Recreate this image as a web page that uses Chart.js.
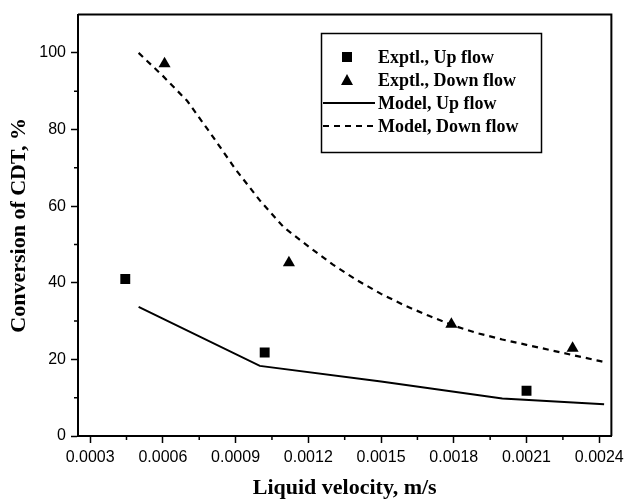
<!DOCTYPE html>
<html>
<head>
<meta charset="utf-8">
<script src="https://cdn.jsdelivr.net/npm/chart.js@4"></script>
<style>
  html, body { margin: 0; padding: 0; background: #fff; }
</style>
</head>
<body>
<canvas id="myChart" width="629" height="502"></canvas>
<script>
// experimental points
const upExpX = [0.000445, 0.00102, 0.0021];
const upExpY = [41, 21.8, 11.8];
const downExpX = [0.000607, 0.00112, 0.00179, 0.00229];
const downExpY = [97.2, 45.2, 29.2, 22.9];

// model curves
const upModelX = [0.0005, 0.001, 0.0015, 0.002, 0.00242];
const upModelY = [33.7, 18.3, 14.2, 9.8, 8.3];
const downModelX = [0.0005, 0.0006, 0.0007, 0.0008, 0.0009, 0.001, 0.0011, 0.0012, 0.0013, 0.0014,
    0.0015, 0.0016, 0.0017, 0.0018, 0.0019, 0.002, 0.0021, 0.0022, 0.0023, 0.0024, 0.00242];
const downModelY = [100, 94, 87.5, 78.7, 69.6, 61.5, 54.4, 49.5, 44.8, 40.7,
    37.1, 34.0, 31.3, 28.8, 26.8, 25.2, 23.8, 22.4, 21.0, 19.6, 19.3];

// ticks
const xTicks = [0.0003, 0.0006, 0.0009, 0.0012, 0.0015, 0.0018, 0.0021, 0.0024];
const xMinor = [0.00045, 0.00075, 0.00105, 0.00135, 0.00165, 0.00195, 0.00225];
const yTicks = [0, 20, 40, 60, 80, 100];
const yMinor = [10, 30, 50, 70, 90];

const pts = (xs, ys) => xs.map((x, i) => ({ x: x, y: ys[i] }));

const serifBold = { family: "'Liberation Serif', 'Times New Roman', serif", weight: "bold" };

// legend box drawn inside the plot
const boxLegend = {
    id: "boxLegend",
    afterDraw(chart) {
        const ctx = chart.ctx;
        const x0 = 321, y0 = 33, w = 220, h = 119;
        ctx.save();
        ctx.fillStyle = "#fff";
        ctx.fillRect(x0, y0, w, h);
        ctx.strokeStyle = "#000";
        ctx.lineWidth = 1.5;
        ctx.strokeRect(x0 + 0.5, y0 + 0.5, w, h);
        ctx.font = "bold 18px 'Liberation Serif', 'Times New Roman', serif";
        ctx.textBaseline = "middle";
        chart.data.datasets.forEach((ds, i) => {
            const y = y0 + 24 + i * 23;
            ctx.fillStyle = "#000";
            if (ds.showLine) {
                ctx.lineWidth = 2;
                ctx.setLineDash(ds.borderDash || []);
                ctx.beginPath();
                ctx.moveTo(x0 + 2, y);
                ctx.lineTo(x0 + 54, y);
                ctx.stroke();
                ctx.setLineDash([]);
            } else if (ds.pointStyle === "rect") {
                ctx.fillRect(347 - 5, y - 5, 10, 10);
            } else {
                ctx.beginPath();
                ctx.moveTo(347, y - 6);
                ctx.lineTo(353, y + 5);
                ctx.lineTo(341, y + 5);
                ctx.closePath();
                ctx.fill();
            }
            ctx.fillText(ds.label, 378, y + 1);
        });
        ctx.restore();
    }
};

// frame on top/right and minor ticks
const frame = {
    id: "frame",
    afterDraw(chart) {
        const ctx = chart.ctx;
        const a = chart.chartArea;
        const xs = chart.scales.x, ys = chart.scales.y;
        ctx.save();
        ctx.strokeStyle = "#000";
        ctx.lineWidth = 2;
        ctx.beginPath();
        ctx.moveTo(a.left, a.top);
        ctx.lineTo(a.right, a.top);
        ctx.lineTo(a.right, a.bottom);
        ctx.stroke();
        ctx.lineWidth = 1.5;
        ctx.beginPath();
        xMinor.forEach(v => {
            const px = xs.getPixelForValue(v);
            ctx.moveTo(px, a.bottom);
            ctx.lineTo(px, a.bottom + 4);
        });
        yMinor.forEach(v => {
            const py = ys.getPixelForValue(v);
            ctx.moveTo(a.left, py);
            ctx.lineTo(a.left - 4, py);
        });
        ctx.stroke();
        ctx.restore();
    }
};

const ctx = document.getElementById("myChart").getContext("2d");
new Chart(ctx, {
    type: "scatter",
    data: {
        datasets: [
            {
                label: "Exptl., Up flow",
                data: pts(upExpX, upExpY),
                pointStyle: "rect",
                pointRadius: 7,
                backgroundColor: "#000",
                borderColor: "#000",
                borderWidth: 0,
            },
            {
                label: "Exptl., Down flow",
                data: pts(downExpX, downExpY),
                pointStyle: "triangle",
                pointRadius: 7,
                backgroundColor: "#000",
                borderColor: "#000",
                borderWidth: 0,
            },
            {
                label: "Model, Up flow",
                data: pts(upModelX, upModelY),
                showLine: true,
                pointRadius: 0,
                borderColor: "#000",
                borderWidth: 2,
            },
            {
                label: "Model, Down flow",
                data: pts(downModelX, downModelY),
                showLine: true,
                pointRadius: 0,
                borderColor: "#000",
                borderWidth: 2.2,
                borderDash: [6, 5],
            },
        ],
    },
    options: {
        responsive: false,
        animation: false,
        devicePixelRatio: 1,
        layout: { padding: { top: 14, right: 12, left: 0, bottom: 0 } },
        plugins: {
            legend: { display: false },
            tooltip: { enabled: false },
        },
        scales: {
            x: {
                type: "linear",
                min: 0.00025,
                max: 0.00245,
                afterBuildTicks: s => { s.ticks = xTicks.map(v => ({ value: v })); },
                afterFit: s => { s.height = 66; },
                border: { display: true, color: "#000", width: 2 },
                grid: { drawOnChartArea: false, drawTicks: true, tickLength: 7, tickColor: "#000", tickWidth: 1.5 },
                ticks: {
                    color: "#000",
                    padding: 5,
                    maxRotation: 0,
                    font: { family: "'Liberation Sans', Arial, sans-serif", size: 16 },
                    callback: v => v.toFixed(4),
                },
                title: {
                    display: true,
                    text: "Liquid velocity, m/s",
                    color: "#000",
                    font: { ...serifBold, size: 22 },
                    padding: { top: 0, bottom: 0 },
                },
            },
            y: {
                min: 0,
                max: 110,
                afterBuildTicks: s => { s.ticks = yTicks.map(v => ({ value: v })); },
                afterFit: s => { s.width = 78; },
                border: { display: true, color: "#000", width: 2 },
                grid: { drawOnChartArea: false, drawTicks: true, tickLength: 7, tickColor: "#000", tickWidth: 1.5 },
                ticks: {
                    color: "#000",
                    padding: 5,
                    font: { family: "'Liberation Sans', Arial, sans-serif", size: 16 },
                    callback: v => String(v),
                },
                title: {
                    display: true,
                    text: "Conversion of CDT, %",
                    color: "#000",
                    font: { ...serifBold, size: 22 },
                    padding: { top: 6, bottom: 0 },
                },
            },
        },
    },
    plugins: [boxLegend, frame],
});
</script>
</body>
</html>
